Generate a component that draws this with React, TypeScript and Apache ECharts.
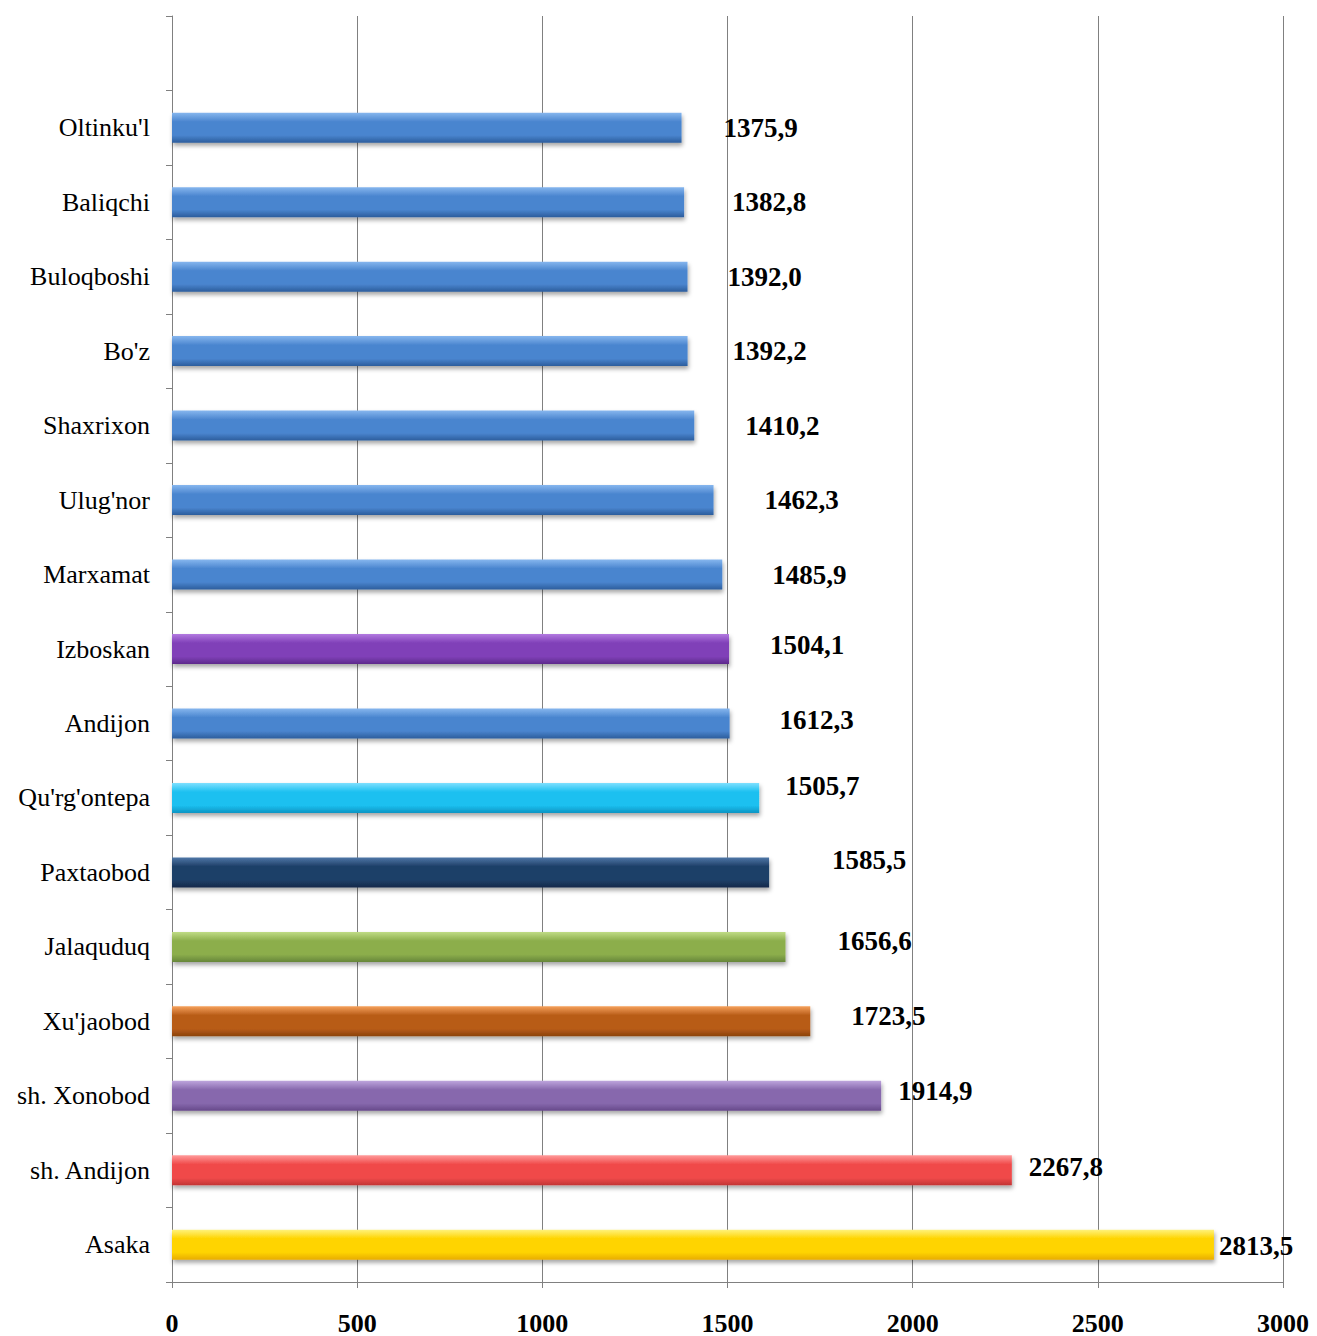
import React, { useEffect, useRef } from "react";
import * as echarts from "echarts";

// Categories listed bottom-to-top (ECharts category y-axis order); last slot is empty
const categories = [
  "Asaka",
  "sh. Andijon",
  "sh. Xonobod",
  "Xu'jaobod",
  "Jalaquduq",
  "Paxtaobod",
  "Qu'rg'ontepa",
  "Andijon",
  "Izboskan",
  "Marxamat",
  "Ulug'nor",
  "Shaxrixon",
  "Bo'z",
  "Buloqboshi",
  "Baliqchi",
  "Oltinku'l",
  "",
];

// Bar lengths as drawn in the picture
const barValues = [
  2813.5, 2267.8, 1914.9, 1723.5, 1656.6, 1612.3, 1585.5, 1505.7, 1504.1,
  1485.9, 1462.3, 1410.2, 1392.2, 1392.0, 1382.8, 1375.9, null,
];

// Value labels as printed in the picture
const valueLabels = [
  "2813,5", "2267,8", "1914,9", "1723,5", "1656,6", "1585,5", "1505,7",
  "1612,3", "1504,1", "1485,9", "1462,3", "1410,2", "1392,2", "1392,0",
  "1382,8", "1375,9", "",
];

const xTicks = { min: 0, max: 3000, interval: 500 };

// Styling (not data)
const barColors: [string, string, string][] = [
  ["#fff27a", "#ffd400", "#e8ac00"], // Asaka
  ["#ff9a9a", "#f04a4a", "#c23434"], // sh. Andijon
  ["#bda4dc", "#8768ad", "#66498a"], // sh. Xonobod
  ["#f5a05a", "#b85c18", "#8a420c"], // Xu'jaobod
  ["#c0dc86", "#8cae4c", "#67873a"], // Jalaquduq
  ["#4f78a8", "#1f3f68", "#14294a"], // Paxtaobod
  ["#7fe0ff", "#1cc0f0", "#0a95c4"], // Qu'rg'ontepa
  ["#86b6ee", "#4a85cf", "#2c5d9c"], // Andijon
  ["#b27ae0", "#8040b8", "#5e2a8c"], // Izboskan
  ["#86b6ee", "#4a85cf", "#2c5d9c"],
  ["#86b6ee", "#4a85cf", "#2c5d9c"],
  ["#86b6ee", "#4a85cf", "#2c5d9c"],
  ["#86b6ee", "#4a85cf", "#2c5d9c"],
  ["#86b6ee", "#4a85cf", "#2c5d9c"],
  ["#86b6ee", "#4a85cf", "#2c5d9c"],
  ["#86b6ee", "#4a85cf", "#2c5d9c"],
  ["#86b6ee", "#4a85cf", "#2c5d9c"],
];

const labelShift: [number, number][] = [
  [5, 1], [17, -3], [17, -5], [41, -5], [52, -6], [63, -12], [26, -12],
  [50, -3], [41, -4], [50, 0], [51, 0], [51, 0], [45, 0], [40, 0], [48, 0],
  [42, 0], [0, 0],
];

const SERIF = "'Liberation Serif', 'Times New Roman', serif";

export default function App() {
  const ref = useRef<HTMLDivElement>(null);

  useEffect(() => {
    if (!ref.current) return;
    const chart = echarts.init(ref.current, undefined, { renderer: "svg" });

    const data = barValues.map((v, i) => {
      const c = barColors[i];
      return {
        value: v,
        itemStyle: {
          color: new echarts.graphic.LinearGradient(0, 0, 0, 1, [
            { offset: 0, color: c[0] },
            { offset: 0.3, color: c[1] },
            { offset: 0.75, color: c[1] },
            { offset: 1, color: c[2] },
          ]),
          shadowColor: "rgba(0,0,0,0.35)",
          shadowBlur: 4,
          shadowOffsetY: 3,
          shadowOffsetX: 1,
        },
        label: {
          offset: labelShift[i],
        },
      };
    });

    chart.setOption({
      animation: false,
      backgroundColor: "#ffffff",
      grid: { left: 172, right: 34, top: 16, bottom: 53, containLabel: false },
      xAxis: {
        type: "value",
        min: xTicks.min,
        max: xTicks.max,
        interval: xTicks.interval,
        axisLine: { show: true, lineStyle: { color: "#808080", width: 1 } },
        axisTick: { show: true, length: 6, lineStyle: { color: "#808080" } },
        splitLine: { show: true, lineStyle: { color: "#808080", width: 1 } },
        axisLabel: {
          margin: 28,
          fontFamily: SERIF,
          fontSize: 26,
          fontWeight: "bold",
          color: "#000",
          formatter: (v: number) => String(v),
        },
      },
      yAxis: {
        type: "category",
        data: categories,
        axisLine: { show: true, lineStyle: { color: "#808080", width: 1 } },
        axisTick: { show: true, length: 6, lineStyle: { color: "#808080" } },
        axisLabel: {
          margin: 22,
          fontFamily: SERIF,
          fontSize: 26,
          color: "#000",
          interval: 0,
        },
        splitLine: { show: false },
      },
      series: [
        {
          type: "bar",
          data,
          barWidth: 30,
          label: {
            show: true,
            position: "right",
            distance: 0,
            fontFamily: SERIF,
            fontSize: 27,
            fontWeight: "bold",
            color: "#000",
            formatter: (p: any) => valueLabels[p.dataIndex],
          },
        },
      ],
    });

    return () => chart.dispose();
  }, []);

  return (
    <div
      ref={ref}
      style={{ position: "absolute", left: 0, top: 0, width: 1317, height: 1336 }}
    />
  );
}
